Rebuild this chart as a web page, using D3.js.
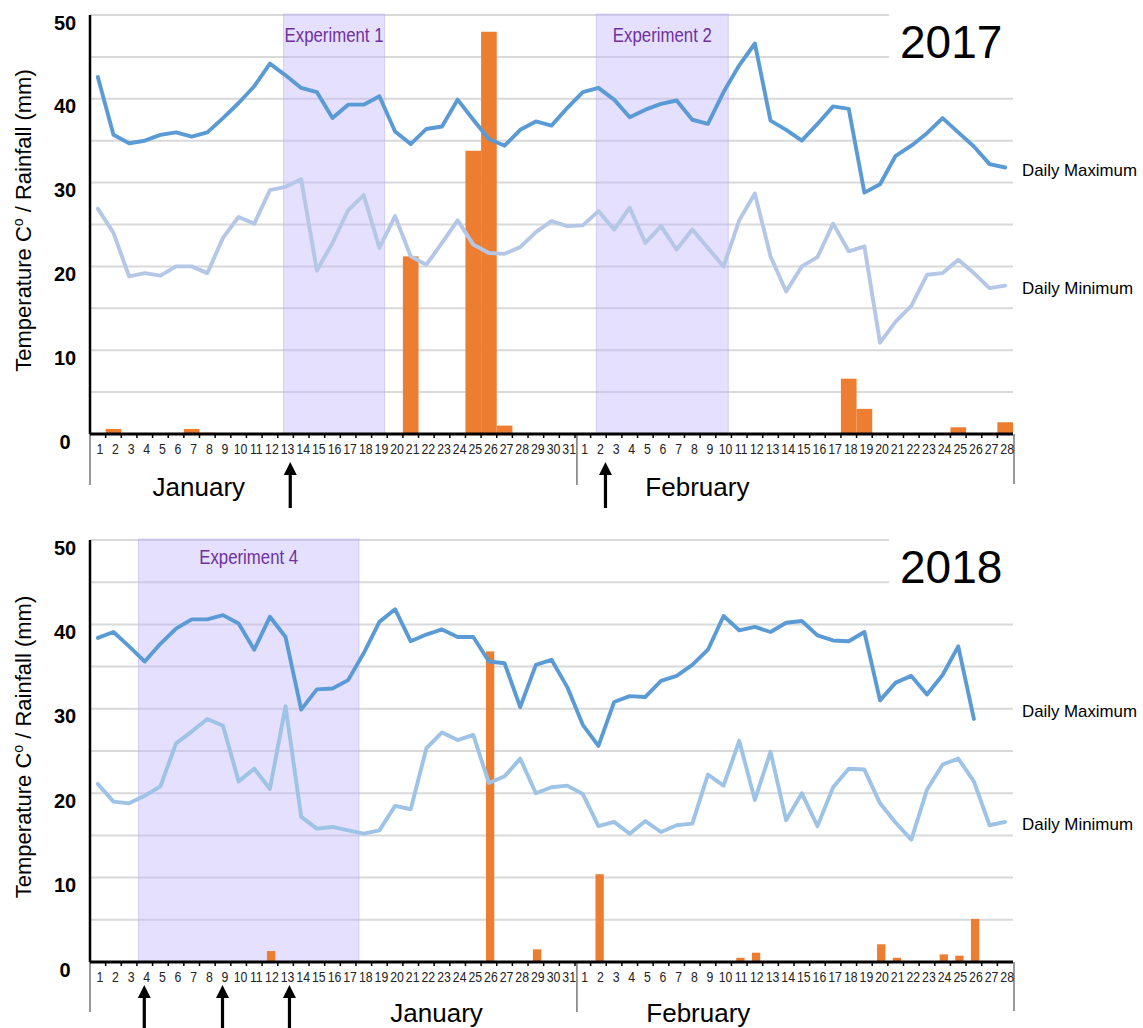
<!DOCTYPE html>
<html><head><meta charset="utf-8">
<script src="https://cdn.jsdelivr.net/npm/d3@7"></script>
<style>
body{margin:0;background:#fff}
svg{display:block}
text{font-family:"Liberation Sans",Arial,Helvetica,sans-serif}
</style>
</head><body>
<svg id="c" width="1143" height="1028"></svg>
<script>
// ---------- DATA ----------
const dayLabels = ["1","2","3","4","5","6","7","8","9","10","11","12","13","14","15","16","17","18","19","20","21","22","23","24","25","26","27","28","29","30","31",
                   "1","2","3","4","5","6","7","8","9","10","11","12","13","14","15","16","17","18","19","20","21","22","23","24","25","26","27","28"];
const monthNames = ["January","February"];
const yTickValues = [0,10,20,30,40,50];
const seriesNames = ["Daily Maximum","Daily Minimum"];

const max2017 = [42.6,35.7,34.7,35.0,35.7,36.0,35.5,36.0,37.7,39.5,41.5,44.2,42.8,41.3,40.8,37.7,39.3,39.3,40.3,36.1,34.6,36.4,36.7,39.9,37.5,35.2,34.4,36.3,37.3,36.8,38.9,
                 40.8,41.3,39.9,37.8,38.7,39.4,39.8,37.5,37.0,40.8,44.0,46.6,37.4,36.3,35.0,37.0,39.1,38.8,28.8,29.8,33.2,34.4,35.9,37.7,36.0,34.3,32.2,31.8];
const min2017 = [26.9,24.0,18.8,19.2,18.9,20.0,20.0,19.2,23.4,25.9,25.1,29.1,29.5,30.4,19.5,22.8,26.7,28.5,22.2,26.0,21.2,20.2,22.8,25.5,22.6,21.6,21.5,22.3,24.1,25.4,24.8,
                 24.9,26.6,24.4,27.0,22.8,24.8,22.0,24.4,22.2,20.0,25.5,28.7,21.2,17.0,20.0,21.1,25.1,21.8,22.4,10.9,13.4,15.3,19.0,19.2,20.8,19.2,17.4,17.7];
const rain2017 = [0,0.6,0,0,0,0,0.6,0.15,0,0,0,0,0,0,0,0,0,0,0,0,21.2,0.1,0,0,33.8,48.0,1.0,0,0,0,0,
                  0,0,0,0,0,0,0,0,0,0,0,0,0,0,0,0,0,6.6,3.0,0.1,0,0,0,0,0.8,0,0,1.4];

const max2018 = [38.4,39.1,37.4,35.6,37.7,39.5,40.6,40.6,41.1,40.1,37.0,40.9,38.5,29.9,32.3,32.4,33.4,36.6,40.3,41.8,38.0,38.8,39.4,38.5,38.5,35.6,35.4,30.2,35.2,35.8,32.6,
                 28.1,25.6,30.8,31.5,31.4,33.3,33.9,35.2,37.0,41.0,39.3,39.7,39.1,40.2,40.4,38.7,38.1,38.0,39.1,31.0,33.1,33.9,31.7,34.0,37.4,28.8,null,null];
const min2018 = [21.1,19.0,18.8,19.7,20.8,25.9,27.3,28.8,28.0,21.4,22.9,20.5,30.3,17.2,15.8,16.0,15.6,15.2,15.6,18.5,18.1,25.3,27.2,26.3,26.9,21.2,22.0,24.1,20.0,20.7,20.9,
                 19.9,16.1,16.6,15.2,16.7,15.4,16.2,16.4,22.2,20.9,26.2,19.2,24.9,16.8,20.0,16.1,20.7,22.9,22.8,18.8,16.5,14.5,20.4,23.4,24.1,21.4,16.2,16.6];
const rain2018 = [0,0,0,0,0,0,0,0,0,0,0,1.3,0,0,0,0,0,0,0,0,0,0,0,0,0,36.8,0,0,1.5,0,0,
                  0,10.4,0,0,0,0,0,0,0,0,0.5,1.1,0,0,0,0,0,0,0,2.1,0.5,0,0,0.9,0.75,5.1,0,0];

// experiment spans and arrow markers, in day-index units along the x axis
const experiments2017 = [{label:"Experiment 1", start:12.37, end:18.83},{label:"Experiment 2", start:32.37, end:40.8}];
const experiments2018 = [{label:"Experiment 4", start:3.1, end:17.19}];
const arrows2017 = [12.8, 32.95];
const arrows2018 = [3.47, 8.47, 12.75];

// ---------- CHART ----------
const svg = d3.select("#c");
const N = dayLabels.length;
const X0 = 90, X1 = 1013;
const x = d3.scaleBand().domain(d3.range(N)).range([X0, X1]).padding(0);
const xi = d3.scaleLinear().domain([0, N]).range([X0, X1]);
const cx = i => x(i) + x.bandwidth()/2;

const panels = [
  {year:"2017", y0:434, y50:15, max:max2017, min:min2017, rain:rain2017, exps:experiments2017, arrows:arrows2017,
   minColor:"#b4c7e7", barFrac:1.0, barShift:0, monthPos:[4.0, 35.5], maxLabelY:176, minLabelY:294,
   arrowTip:28, arrowLen:46, monthY:62, extY:51, expDy:27},
  {year:"2018", y0:962, y50:540, max:max2018, min:min2018, rain:rain2018, exps:experiments2018, arrows:arrows2018,
   minColor:"#9dc3e6", barFrac:0.53, barShift:1.2, monthPos:[19.2, 35.56], maxLabelY:717, minLabelY:830,
   arrowTip:23, arrowLen:50, monthY:60, extY:50, expDy:24}
];

panels.forEach(p => {
  const y = d3.scaleLinear().domain([0,50]).range([p.y0, p.y50]);
  const g = svg.append("g");

  // gridlines
  g.selectAll("line.grid").data(d3.range(5, 51, 5)).join("line")
    .attr("class","grid")
    .attr("x1", X0).attr("x2", X1)
    .attr("y1", d => y(d)).attr("y2", d => y(d))
    .attr("stroke", "#d9d9d9").attr("stroke-width", 2);

  // white box behind year title
  g.append("rect").attr("x", 889).attr("y", y(50) - 4).attr("width", 140)
    .attr("height", y(45) - y(50) + 8).attr("fill", "#fff");

  // experiment bands
  g.selectAll("rect.exp").data(p.exps).join("rect")
    .attr("class","exp")
    .attr("x", d => xi(d.start)).attr("width", d => xi(d.end) - xi(d.start))
    .attr("y", y(50) - 1).attr("height", y(0) - y(50) + 1)
    .attr("fill", "rgba(190,180,250,0.42)")
    .attr("stroke", "rgba(175,165,245,0.45)").attr("stroke-width", 1);
  g.selectAll("text.exp").data(p.exps).join("text")
    .attr("class","exp")
    .attr("x", d => (xi(d.start) + xi(d.end)) / 2)
    .attr("y", y(50) + p.expDy)
    .attr("text-anchor", "middle")
    .attr("font-size", 20.5)
    .attr("textLength", 99).attr("lengthAdjust", "spacingAndGlyphs")
    .attr("fill", "#7030a0")
    .text(d => d.label);

  // rainfall bars
  const bw = x.bandwidth() * p.barFrac;
  g.selectAll("rect.bar").data(p.rain.map((v,i) => ({v,i})).filter(d => d.v > 0)).join("rect")
    .attr("class","bar")
    .attr("x", d => cx(d.i) - bw/2 + p.barShift)
    .attr("width", bw)
    .attr("y", d => y(d.v))
    .attr("height", d => y(0) - y(d.v))
    .attr("fill", "#ed7d31");

  // lines
  const line = d3.line().defined(d => d != null).x((d,i) => cx(i)).y(d => y(d));
  g.append("path").datum(p.min).attr("d", line).attr("fill","none")
    .attr("stroke", p.minColor).attr("stroke-width", 3.9).attr("stroke-linejoin","round").attr("stroke-linecap","round");
  g.append("path").datum(p.max).attr("d", line).attr("fill","none")
    .attr("stroke", "#5b9bd5").attr("stroke-width", 3.9).attr("stroke-linejoin","round").attr("stroke-linecap","round");

  // series labels
  g.append("text").attr("x", 1022).attr("y", p.maxLabelY).attr("font-size", 17)
    .attr("textLength", 115).attr("lengthAdjust","spacingAndGlyphs").text(seriesNames[0]);
  g.append("text").attr("x", 1022).attr("y", p.minLabelY).attr("font-size", 17)
    .attr("textLength", 111).attr("lengthAdjust","spacingAndGlyphs").text(seriesNames[1]);

  // year title
  g.append("text").attr("x", 900).attr("y", y(50) + 43).attr("font-size", 46).text(p.year);

  // y axis
  const ya = g.append("g").attr("transform", `translate(${X0},0)`)
    .call(d3.axisLeft(y).tickValues(yTickValues).tickSize(0).tickFormat(d3.format("d")));
  ya.select(".domain").remove();
  ya.selectAll("text").attr("x", -25).attr("dy", "0.35em")
    .attr("transform", "translate(0,7)")
    .attr("text-anchor", "middle").attr("font-size", 20).attr("font-weight", "bold")
    .attr("fill", "#000").style("font-family", '"Liberation Sans",Arial,sans-serif');
  g.append("line").attr("x1", X0).attr("x2", X0).attr("y1", y(50)).attr("y2", y(0))
    .attr("stroke", "#000").attr("stroke-width", 2.5);
  g.append("line").attr("x1", X0).attr("x2", X0).attr("y1", y(0)).attr("y2", y(0) + p.extY)
    .attr("stroke", "#333").attr("stroke-width", 1);
  g.append("line").attr("x1", X1 + 1).attr("x2", X1 + 1).attr("y1", y(0)).attr("y2", y(0) + p.extY - 1)
    .attr("stroke", "#333").attr("stroke-width", 1);
  g.append("line").attr("x1", xi(31) + 2).attr("x2", xi(31) + 2).attr("y1", y(0)).attr("y2", y(0) + p.extY)
    .attr("stroke", "#333").attr("stroke-width", 1);

  // y axis title
  const yt = g.append("text")
    .attr("transform", `translate(31,${(y(0) + y(50)) / 2 - 4}) rotate(-90)`)
    .attr("text-anchor", "middle").attr("font-size", 22);
  yt.append("tspan").text("Temperature C");
  yt.append("tspan").attr("dy", -8).attr("font-size", 14).text("o");
  yt.append("tspan").attr("dy", 8).text(" / Rainfall (mm)");

  // x axis
  const xa = g.append("g").attr("transform", `translate(0,${y(0)})`)
    .call(d3.axisBottom(x).tickSize(0).tickFormat(i => dayLabels[i]));
  xa.select(".domain").remove();
  xa.selectAll(".tick text").attr("y", 0).attr("dy", 0)
    .attr("transform", "translate(2,19.5) scale(0.82,1)")
    .attr("font-size", 15).attr("fill", "#222")
    .style("font-family", '"Liberation Sans",Arial,sans-serif');
  g.selectAll("line.xt").data(d3.range(1, N)).join("line")
    .attr("class","xt")
    .attr("x1", d => xi(d)).attr("x2", d => xi(d))
    .attr("y1", y(0)).attr("y2", y(0) + 4)
    .attr("stroke", "#000").attr("stroke-width", 1.5);
  g.append("line").attr("x1", X0).attr("x2", X1).attr("y1", y(0)).attr("y2", y(0))
    .attr("stroke", "#000").attr("stroke-width", 3);

  // month labels
  g.selectAll("text.month").data(monthNames).join("text")
    .attr("class","month")
    .attr("x", (d,k) => xi(p.monthPos[k])).attr("y", y(0) + p.monthY)
    .attr("font-size", 26).text(d => d);

  // arrows
  const ag = g.selectAll("g.arrow").data(p.arrows).join("g").attr("class","arrow")
    .attr("transform", d => `translate(${xi(d)},${y(0) + p.arrowTip})`);
  ag.append("line").attr("x1",0).attr("x2",0).attr("y1",10).attr("y2",p.arrowLen)
    .attr("stroke","#000").attr("stroke-width",3.2);
  ag.append("path").attr("d","M0,0 L-6.5,13 L6.5,13 Z").attr("fill","#000");
});
</script>
</body></html>
